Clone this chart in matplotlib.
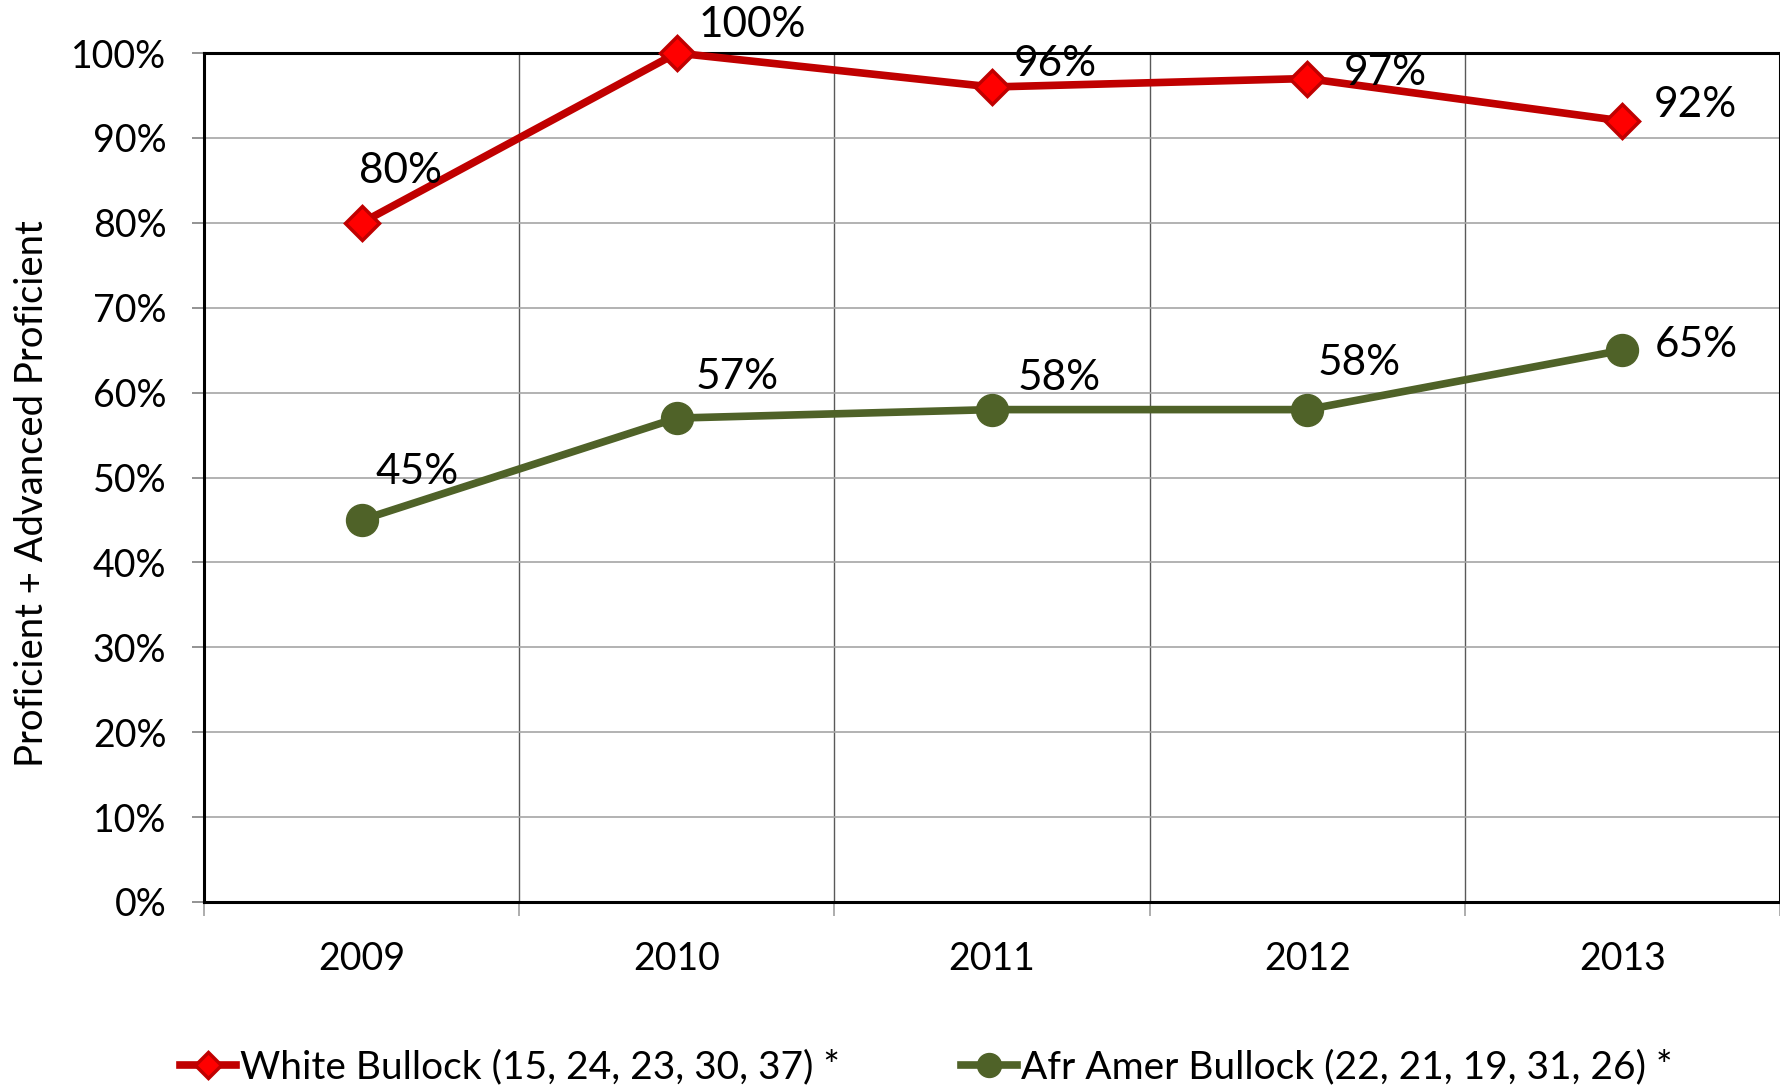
import matplotlib.pyplot as plt
import numpy as np

plt.rcParams['font.family'] = ['Lato', 'DejaVu Sans']

years = ['2009', '2010', '2011', '2012', '2013']
white = [80, 100, 96, 97, 92]
afr_amer = [45, 57, 58, 58, 65]
white_label = 'White Bullock (15, 24, 23, 30, 37) *'
afr_label = 'Afr Amer Bullock (22, 21, 19, 31, 26) *'

# label offsets in pixels (manually placed like the original)
white_offsets = [(-3, 52), (22, 28), (22, 23), (36, 6), (31, 16)]
afr_offsets = [(14, 48), (19, 41), (26, 32), (10, 47), (32, 5)]

fig = plt.figure(figsize=(17.81, 10.87), dpi=100)
ax = fig.add_axes([0.1145, 0.1702, 0.885, 0.781])

x = np.arange(len(years)) + 0.5
red_dark = '#C00000'
green = '#4F6228'

ax.plot(x, white, color=red_dark, lw=5.5, marker='D', markersize=17,
        markerfacecolor='#FF0000', markeredgecolor=red_dark, markeredgewidth=2.5,
        label=white_label, zorder=4, clip_on=False)
ax.plot(x, afr_amer, color=green, lw=5.5, marker='o', markersize=23,
        markerfacecolor=green, markeredgecolor=green,
        label=afr_label, zorder=4, clip_on=False)

for xi, v, (dx, dy) in zip(x, white, white_offsets):
    ax.annotate(f'{v}%', (xi, v), xytext=(dx, dy), textcoords='offset pixels',
                ha='left', va='center', fontsize=30.5, zorder=5)
for xi, v, (dx, dy) in zip(x, afr_amer, afr_offsets):
    ax.annotate(f'{v}%', (xi, v), xytext=(dx, dy), textcoords='offset pixels',
                ha='left', va='center', fontsize=30.5, zorder=5)

ax.set_xlim(0, len(years))
ax.set_ylim(0, 100)

ax.set_yticks(np.arange(0, 101, 10))
ax.set_yticklabels([f'{t}%' for t in range(0, 101, 10)], fontsize=27)
ax.tick_params(axis='y', length=9, width=1.2, color='#808080', pad=18)

ax.set_xticks(np.arange(0, len(years) + 1))
ax.set_xticklabels([])
ax.set_xticks(x, minor=True)
ax.set_xticklabels(years, minor=True, fontsize=27)
ax.tick_params(axis='x', which='major', length=10, width=1.2, color='#A0A0A0')
ax.tick_params(axis='x', which='minor', length=0, pad=28)

ax.yaxis.grid(True, color='#A6A6A6', lw=1.2)
ax.xaxis.grid(True, which='major', color='#595959', lw=1.0)
ax.set_axisbelow(True)

for side in ['left', 'bottom', 'top', 'right']:
    ax.spines[side].set_linewidth(2.2)
    ax.spines[side].set_color('black')

ax.set_ylabel('Proficient + Advanced Proficient', fontsize=27.5, va='center')
ax.yaxis.set_label_coords(-0.109, 0.481)

fig.legend(loc='center', bbox_to_anchor=(0.52, 0.018), ncol=2, frameon=False,
           fontsize=28, handlelength=1.45, handletextpad=0.1, columnspacing=3.1,
           markerscale=0.75)

fig.savefig('out.png', dpi=100)
